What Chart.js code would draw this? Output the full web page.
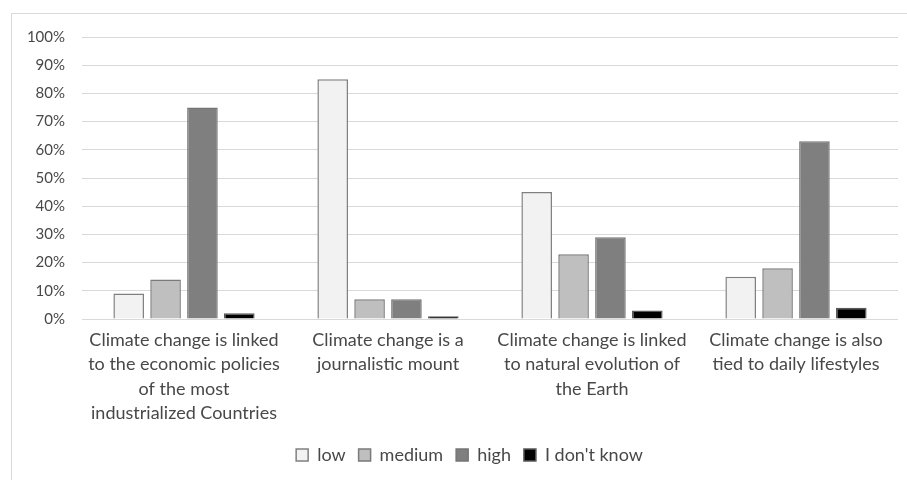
<!DOCTYPE html>
<html>
<head>
<meta charset="utf-8">
<script src="https://cdn.jsdelivr.net/npm/chart.js@4/dist/chart.umd.min.js"></script>
<style>
  html, body { margin: 0; padding: 0; background: #ffffff; }
  #wrap { position: relative; width: 907px; height: 480px; }
</style>
</head>
<body>
<div id="wrap"><canvas id="c" width="907" height="480"></canvas></div>
<script>
// Statements about climate change (x-axis categories, one array entry per line)
const categories = [
  ["Climate change is linked", "to the economic policies", "of the most", "industrialized Countries"],
  ["Climate change is a", "journalistic mount"],
  ["Climate change is linked", "to natural evolution of", "the Earth"],
  ["Climate change is also", "tied to daily lifestyles"]
];

// Share of respondents (%) per agreement level
const lowValues      = [9, 85, 45, 15];
const mediumValues   = [14, 7, 23, 18];
const highValues     = [75, 7, 29, 63];
const dontKnowValues = [2, 1, 3, 4];

const seriesNames = ["low", "medium", "high", "I don't know"];

// y-axis tick labels, 0% .. 100% every 10%
const yTickLabels = ["0%", "10%", "20%", "30%", "40%", "50%", "60%", "70%", "80%", "90%", "100%"];

const textColor = "#484848";
const fontFamily = "Lato, 'Noto Sans', sans-serif";

// Thin outer frame around the chart; legend nudged to sit centred under the frame
const framePlugin = {
  id: "frame",
  afterLayout(chart) {
    if (chart.legend) {
      chart.legend.left += 15;
      chart.legend.right += 15;
    }
  },
  beforeDraw(chart) {
    const ctx = chart.ctx;
    ctx.save();
    ctx.fillStyle = "#ffffff";
    ctx.fillRect(0, 0, chart.width, chart.height);
    ctx.strokeStyle = "#d9d9d9";
    ctx.lineWidth = 1;
    ctx.strokeRect(11.5, 13.5, chart.width + 10, chart.height + 10);
    ctx.restore();
  }
};

new Chart(document.getElementById("c"), {
  type: "bar",
  data: {
    labels: categories,
    datasets: [
      { label: seriesNames[0], data: lowValues,      backgroundColor: "#f2f2f2", borderColor: "#808080", borderWidth: 1.5 },
      { label: seriesNames[1], data: mediumValues,   backgroundColor: "#bfbfbf", borderColor: "#7a7a7a", borderWidth: 1.5 },
      { label: seriesNames[2], data: highValues,     backgroundColor: "#7f7f7f", borderColor: "#757575", borderWidth: 1.5 },
      { label: seriesNames[3], data: dontKnowValues, backgroundColor: "#000000", borderColor: "#5a5a5a", borderWidth: 1.5 }
    ]
  },
  options: {
    responsive: false,
    animation: false,
    devicePixelRatio: 1,
    categoryPercentage: 0.723,
    barPercentage: 0.83,
    layout: { padding: { left: 11, right: 9, top: 37, bottom: 6 } },
    plugins: {
      tooltip: { enabled: false },
      legend: {
        position: "bottom",
        labels: {
          color: textColor,
          boxWidth: 12,
          boxHeight: 12,
          padding: 13,
          font: { family: fontFamily, size: 18 }
        }
      }
    },
    scales: {
      x: {
        grid: { display: false, drawTicks: false },
        border: { display: false },
        ticks: {
          color: textColor,
          padding: 9,
          maxRotation: 0,
          autoSkip: false,
          font: { family: fontFamily, size: 18, lineHeight: 1.35 }
        },
        afterFit(scale) { scale.height = 114; }
      },
      y: {
        min: 0,
        max: 100,
        grid: { color: "#d9d9d9", lineWidth: 1, drawTicks: false },
        border: { display: false },
        ticks: {
          stepSize: 10,
          color: textColor,
          padding: 17,
          font: { family: fontFamily, size: 15 },
          callback: (v, i) => yTickLabels[i]
        },
        afterFit(scale) { scale.width = 71; }
      }
    }
  },
  plugins: [framePlugin]
});
</script>
</body>
</html>
